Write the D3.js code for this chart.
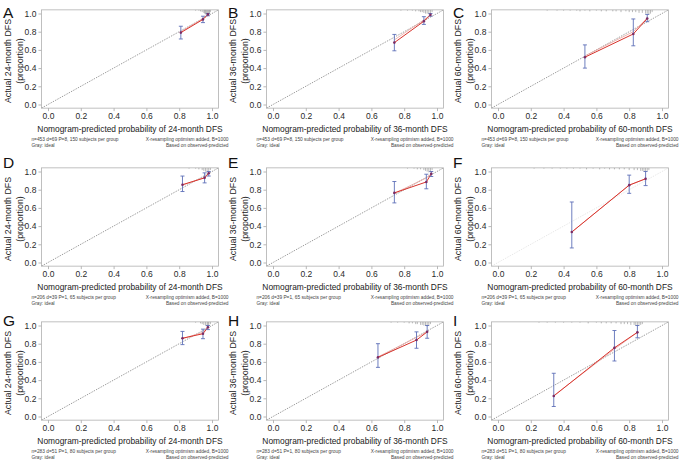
<!DOCTYPE html>
<html>
<head>
<meta charset="utf-8">
<script src="https://cdn.jsdelivr.net/npm/d3@7"></script>
<style>
  body { margin: 0; background: #fff; }
  svg text { font-family: "Liberation Sans", Arial, sans-serif; }
</style>
</head>
<body>
<div id="chart"></div>
<script>
// ---- data ----
var panelLetters = ["A", "B", "C", "D", "E", "F", "G", "H", "I"];
var months = ["24", "36", "60", "24", "36", "60", "24", "36", "60"];
var footLeft1 = [
  "n=453 d=69 P=8, 150 subjects per group", "n=453 d=69 P=8, 150 subjects per group", "n=453 d=69 P=8, 150 subjects per group",
  "n=206 d=39 P=1, 65 subjects per group", "n=206 d=39 P=1, 65 subjects per group", "n=206 d=39 P=1, 65 subjects per group",
  "n=283 d=51 P=1, 80 subjects per group", "n=283 d=51 P=1, 80 subjects per group", "n=283 d=51 P=1, 80 subjects per group"
];
var footLeft2 = "Gray: ideal";
var footRight1 = "X-resampling optimism added, B=1000";
var footRight2 = "Based on observed-predicted";

var xTicks = [0, 0.2, 0.4, 0.6, 0.8, 1.0];
var yTicks = [0, 0.2, 0.4, 0.6, 0.8, 1.0];

// predicted (x), observed (y), error bar low / high, bias-corrected (y)
var predX = [
  [0.81, 0.945, 0.975], [0.74, 0.92, 0.96], [0.53, 0.825, 0.91],
  [0.82, 0.955, 0.98], [0.74, 0.935, 0.965], [0.45, 0.80, 0.90],
  [0.82, 0.945, 0.975], [0.64, 0.875, 0.94], [0.34, 0.71, 0.85]
];
var obsY = [
  [0.79, 0.935, 0.99], [0.68, 0.915, 0.985], [0.52, 0.775, 0.945],
  [0.855, 0.93, 0.98], [0.765, 0.885, 0.975], [0.335, 0.85, 0.92],
  [0.86, 0.91, 0.98], [0.65, 0.84, 0.93], [0.225, 0.755, 0.925]
];
var errLo = [
  [0.72, 0.90, 0.975], [0.59, 0.88, 0.97], [0.40, 0.645, 0.91],
  [0.78, 0.875, 0.95], [0.655, 0.81, 0.945], [0.16, 0.76, 0.845],
  [0.79, 0.855, 0.955], [0.54, 0.75, 0.86], [0.11, 0.61, 0.865]
];
var errHi = [
  [0.86, 0.97, 1.0], [0.77, 0.965, 1.0], [0.655, 0.94, 0.99],
  [0.95, 0.985, 1.0], [0.89, 0.97, 1.0], [0.665, 0.96, 1.0],
  [0.935, 0.96, 1.0], [0.80, 0.93, 1.0], [0.475, 0.945, 1.0]
];
var corrY = [
  [0.80, 0.945, 0.99], [0.71, 0.93, 0.985], [0.535, 0.80, 0.95],
  [0.85, 0.935, 0.98], [0.76, 0.93, 0.975], [0.335, 0.85, 0.92],
  [0.855, 0.925, 0.98], [0.655, 0.87, 0.93], [0.23, 0.74, 0.925]
];

// spike histogram of predicted values along the top
var rugX = [
  [0.90, 0.92, 0.93, 0.94, 0.95, 0.955, 0.96, 0.965, 0.97, 0.975, 0.98, 0.985, 0.99],
  [0.78, 0.82, 0.85, 0.87, 0.89, 0.90, 0.91, 0.92, 0.93, 0.94, 0.95, 0.96, 0.97],
  [0.30, 0.36, 0.40, 0.44, 0.48, 0.50, 0.53, 0.56, 0.60, 0.63, 0.66, 0.70, 0.72, 0.75, 0.78, 0.80, 0.82, 0.84, 0.86, 0.88, 0.90, 0.91, 0.92, 0.93, 0.94],
  [0.86, 0.90, 0.92, 0.94, 0.95, 0.96, 0.97, 0.98, 0.99],
  [0.82, 0.86, 0.88, 0.90, 0.92, 0.93, 0.94, 0.95, 0.96, 0.97],
  [0.22, 0.28, 0.33, 0.38, 0.42, 0.46, 0.50, 0.54, 0.58, 0.62, 0.65, 0.68, 0.71, 0.74, 0.77, 0.80, 0.83, 0.85, 0.87, 0.88, 0.89, 0.90, 0.91, 0.92],
  [0.90, 0.93, 0.94, 0.95, 0.96, 0.97, 0.975, 0.98, 0.99],
  [0.72, 0.76, 0.80, 0.83, 0.85, 0.87, 0.88, 0.90, 0.91, 0.92, 0.93, 0.94, 0.95, 0.96],
  [0.25, 0.30, 0.35, 0.40, 0.45, 0.50, 0.55, 0.60, 0.63, 0.66, 0.69, 0.72, 0.75, 0.77, 0.79, 0.81, 0.83, 0.84, 0.85, 0.86, 0.87, 0.88]
];
var rugN = [
  [1, 1, 2, 3, 4, 5, 6, 6, 7, 8, 6, 5, 3],
  [1, 1, 1, 2, 2, 3, 3, 4, 5, 5, 6, 5, 3],
  [1, 1, 1, 1, 1, 2, 1, 2, 1, 2, 2, 2, 2, 3, 2, 3, 3, 3, 4, 4, 5, 5, 6, 5, 3],
  [1, 1, 2, 3, 4, 5, 6, 5, 3],
  [1, 1, 2, 2, 3, 4, 5, 6, 5, 3],
  [1, 1, 1, 1, 1, 1, 1, 2, 1, 2, 1, 2, 2, 2, 2, 3, 3, 3, 4, 4, 5, 5, 4, 3],
  [1, 2, 3, 4, 5, 6, 6, 5, 3],
  [1, 1, 1, 2, 2, 3, 3, 4, 4, 5, 5, 6, 5, 3],
  [1, 1, 1, 1, 1, 1, 2, 1, 2, 2, 2, 2, 3, 3, 3, 4, 4, 5, 5, 4, 4, 3]
];

// ---- layout ----
var W = 680, H = 464;
var colLeft = [0, 225, 450];
var rowTop = [0, 158, 312];
var letterBase = [18, 168, 326];

var svg = d3.select("#chart").append("svg")
    .attr("width", W)
    .attr("height", H);

function drawPanel(i) {
    var col = i % 3, row = Math.floor(i / 3);
    var ox = colLeft[col], oy = rowTop[row];

    var g = svg.append("g")
        .attr("transform", "translate(" + ox + "," + oy + ")");

    // scales: R style 4% padding around [0,1]
    var xScale = d3.scaleLinear().domain([0, 1]).range([48, 212]);
    var yScale = d3.scaleLinear().domain([0, 1]).range([104.5, 13.5]);
    var x0 = xScale(-0.04), x1 = xScale(1.04);
    var y0 = yScale(-0.04), y1 = yScale(1.04);

    var clipId = "clip" + i;
    g.append("clipPath").attr("id", clipId)
      .append("rect")
        .attr("x", x0).attr("y", y1)
        .attr("width", x1 - x0).attr("height", y0 - y1);

    // axes
    var xAxis = d3.axisBottom(xScale).tickValues(xTicks).tickFormat(d3.format(".1f")).tickSize(3).tickPadding(2);
    var yAxis = d3.axisLeft(yScale).tickValues(yTicks).tickFormat(d3.format(".1f")).tickSize(3).tickPadding(2);

    var gx = g.append("g")
        .attr("transform", "translate(0," + y0 + ")")
        .call(xAxis);
    var gy = g.append("g")
        .attr("transform", "translate(" + x0 + ",0)")
        .call(yAxis);
    [gx, gy].forEach(function (a) {
        a.select(".domain").remove();
        a.selectAll("line").attr("stroke", "#9a9a9a").attr("stroke-width", 0.7);
        a.selectAll("text").attr("fill", "#2a2a2a").style("font-size", "8.5px");
    });
    gx.selectAll("text").attr("dy", "0.72em");

    // box
    g.append("rect")
        .attr("x", x0).attr("y", y1)
        .attr("width", x1 - x0).attr("height", y0 - y1)
        .attr("fill", "none")
        .attr("stroke", "#b0b0b0")
        .attr("stroke-width", 0.8);

    var plot = g.append("g").attr("clip-path", "url(#" + clipId + ")");

    // ideal line
    plot.append("line")
        .attr("x1", xScale(-0.04)).attr("y1", yScale(-0.04))
        .attr("x2", xScale(1.04)).attr("y2", yScale(1.04))
        .attr("stroke", i === 5 ? "#dcdcdc" : "#707070")
        .attr("stroke-width", 0.7)
        .attr("stroke-dasharray", "1.4,1.2");

    // spike histogram at top
    var rugLen = d3.scaleLinear().domain([0, 8]).range([0, 6]);
    plot.selectAll(".rug")
        .data(rugX[i])
        .enter().append("line")
        .attr("class", "rug")
        .attr("x1", function (d) { return xScale(d); })
        .attr("x2", function (d) { return xScale(d); })
        .attr("y1", y1)
        .attr("y2", function (d, j) { return y1 + rugLen(rugN[i][j]); })
        .attr("stroke", "#8c8c8c")
        .attr("stroke-width", 0.6);

    var pts = predX[i].map(function (d, j) {
        return { x: d, y: obsY[i][j], lo: errLo[i][j], hi: errHi[i][j], c: corrY[i][j] };
    });

    var line = d3.line().x(function (d) { return xScale(d.x); }).y(function (d) { return yScale(d.y); });
    var lineC = d3.line().x(function (d) { return xScale(d.x); }).y(function (d) { return yScale(d.c); });

    // bias-corrected
    plot.append("path")
        .attr("d", lineC(pts))
        .attr("fill", "none")
        .attr("stroke", "#eaa4a0")
        .attr("stroke-width", 0.8);

    // observed
    plot.append("path")
        .attr("d", line(pts))
        .attr("fill", "none")
        .attr("stroke", "#d8322b")
        .attr("stroke-width", 1);

    // error bars
    var eb = plot.selectAll(".eb").data(pts).enter().append("g").attr("class", "eb");
    eb.append("line")
        .attr("x1", function (d) { return xScale(d.x); })
        .attr("x2", function (d) { return xScale(d.x); })
        .attr("y1", function (d) { return yScale(d.lo); })
        .attr("y2", function (d) { return yScale(d.hi); })
        .attr("stroke", "#5d6fb8").attr("stroke-width", 0.9);
    ["lo", "hi"].forEach(function (k) {
        eb.append("line")
            .attr("x1", function (d) { return xScale(d.x) - 2; })
            .attr("x2", function (d) { return xScale(d.x) + 2; })
            .attr("y1", function (d) { return yScale(d[k]); })
            .attr("y2", function (d) { return yScale(d[k]); })
            .attr("stroke", "#5d6fb8").attr("stroke-width", 0.9);
    });
    eb.append("circle")
        .attr("cx", function (d) { return xScale(d.x); })
        .attr("cy", function (d) { return yScale(d.y); })
        .attr("r", 1.3)
        .attr("fill", "#7b2b63");

    // panel letter
    svg.append("text")
        .attr("x", ox + 3)
        .attr("y", letterBase[row])
        .style("font-size", "15.5px")
        .attr("fill", "#111")
        .text(panelLetters[i]);

    // y label
    var yMid = (yScale(0) + yScale(1)) / 2 + 2;
    g.append("text")
        .attr("transform", "translate(11," + yMid + ") rotate(-90)")
        .attr("text-anchor", "middle")
        .style("font-size", "8.8px")
        .attr("fill", "#222")
        .text("Actual " + months[i] + "-month DFS");
    g.append("text")
        .attr("transform", "translate(23," + yMid + ") rotate(-90)")
        .attr("text-anchor", "middle")
        .style("font-size", "8.8px")
        .attr("fill", "#222")
        .text("(proportion)");

    // x label
    g.append("text")
        .attr("x", (xScale(0) + xScale(1)) / 2)
        .attr("y", 132)
        .attr("text-anchor", "middle")
        .style("font-size", "8.4px")
        .attr("fill", "#222")
        .text("Nomogram-predicted probability of " + months[i] + "-month DFS");

    // footnotes
    var fs = "4.8px";
    g.append("text").attr("x", x0 - 10).attr("y", 140.5).style("font-size", fs).attr("fill", "#444").text(footLeft1[i]);
    g.append("text").attr("x", x0 - 10).attr("y", 147).style("font-size", fs).attr("fill", "#444").text(footLeft2);
    g.append("text").attr("x", x1 + 10).attr("y", 140.5).attr("text-anchor", "end").style("font-size", fs).attr("fill", "#444").text(footRight1);
    g.append("text").attr("x", x1 + 10).attr("y", 147).attr("text-anchor", "end").style("font-size", fs).attr("fill", "#444").text(footRight2);
}

for (var i = 0; i < 9; i++) {
    drawPanel(i);
}
</script>
</body>
</html>
